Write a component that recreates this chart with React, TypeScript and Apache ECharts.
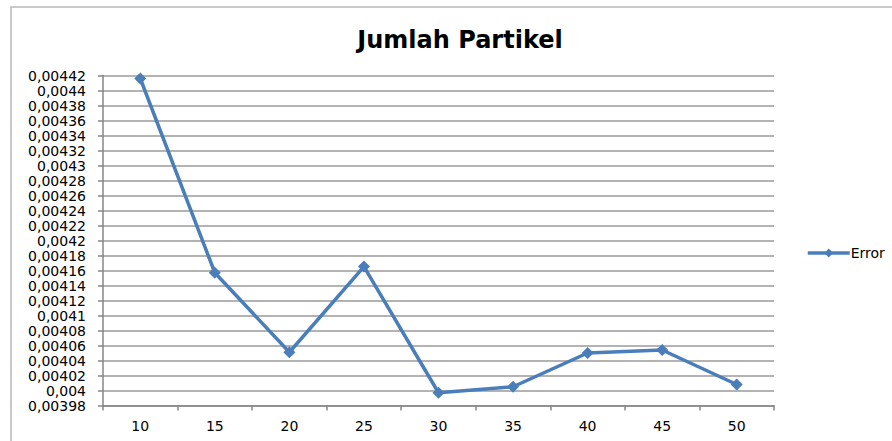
import React, { useEffect, useRef } from "react";
import * as echarts from "echarts";

const categories = ["10", "15", "20", "25", "30", "35", "40", "45", "50"];
const errorValues = [0.004416, 0.004157, 0.004051, 0.0041653, 0.003997, 0.004005, 0.00405, 0.004054, 0.004008];
const yMin = 0.00398;
const yMax = 0.00442;
const yStep = 0.00002;
const title = "Jumlah Partikel";
const seriesName = "Error";

const SCALE = 100000;

function fmt(v: number): string {
  const real = Math.round(v) / SCALE;
  let s = real.toFixed(5);
  s = s.replace(/0+$/, "").replace(/\.$/, "");
  return s.replace(".", ",");
}

export default function App() {
  const ref = useRef<HTMLDivElement>(null);
  useEffect(() => {
    if (!ref.current) return;
    const chart = echarts.init(ref.current, null, { renderer: "svg" });
    const font = "'DejaVu Sans', Verdana, sans-serif";
    chart.setOption({
      animation: false,
      backgroundColor: "#ffffff",
      title: {
        text: title,
        left: 455,
        textAlign: "center",
        top: 23,
        textStyle: { fontFamily: font, fontWeight: "bold", fontSize: 24, color: "#000000" },
      },
      graphic: [
        {
          type: "rect",
          shape: { x: 11, y: 7, width: 1000, height: 1000 },
          style: { fill: "none", stroke: "#b8b8b8", lineWidth: 1.5 },
          silent: true,
        },
      ],
      legend: {
        left: 801,
        top: 241,
        itemWidth: 42,
        itemHeight: 11,
        itemGap: 4,
        lineStyle: { width: 3.5, color: "#4A7EBB" },
        textStyle: { fontFamily: font, fontSize: 14, color: "#000000", padding: [0, 0, 0, -4] },
        data: [seriesName],
      },
      grid: { left: 103, right: 118, top: 75.5, bottom: 35.5, containLabel: false },
      xAxis: {
        type: "category",
        data: categories,
        boundaryGap: true,
        axisLine: { lineStyle: { color: "#868686", width: 1.5 } },
        axisTick: { show: true, inside: false, length: 5, lineStyle: { color: "#868686", width: 1.5 } },
        axisLabel: { fontFamily: font, fontSize: 14, color: "#000000", margin: 13 },
        splitLine: { show: false },
      },
      yAxis: {
        type: "value",
        min: Math.round(yMin * SCALE),
        max: Math.round(yMax * SCALE),
        interval: Math.round(yStep * SCALE),
        axisLine: { show: true, lineStyle: { color: "#868686", width: 1.5 } },
        axisTick: { show: true, inside: false, length: 5, lineStyle: { color: "#868686", width: 1.5 } },
        axisLabel: {
          fontFamily: font,
          fontSize: 14,
          color: "#000000",
          margin: 17,
          formatter: (v: number) => fmt(v),
        },
        splitLine: { show: true, lineStyle: { color: "#9a9a9a", width: 1.5 } },
      },
      series: [
        {
          name: seriesName,
          type: "line",
          data: errorValues.map((v) => v * SCALE),
          symbol: "diamond",
          symbolSize: 12,
          lineStyle: { color: "#4A7EBB", width: 3.5 },
          itemStyle: { color: "#4A7EBB" },
        },
      ],
    });
    return () => chart.dispose();
  }, []);
  return (
    <div
      ref={ref}
      style={{ position: "fixed", left: 0, top: 0, width: 892, height: 441 }}
    />
  );
}
